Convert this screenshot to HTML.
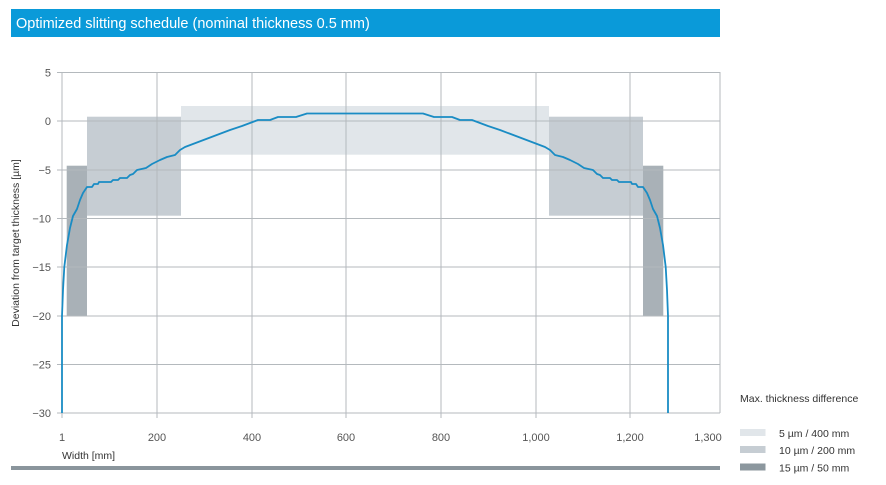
<!DOCTYPE html>
<html><head><meta charset="utf-8"><style>
html,body{margin:0;padding:0;background:#fff;}
svg{display:block;font-family:"Liberation Sans",sans-serif;}
</style></head><body>
<svg width="886" height="485" viewBox="0 0 886 485" xmlns="http://www.w3.org/2000/svg">
<rect x="11" y="9" width="709" height="28" fill="#0a9ad9"/>
<text x="16" y="28" font-size="14.5" fill="#fff">Optimized slitting schedule (nominal thickness 0.5 mm)</text>
<!-- boxes -->
<rect x="181" y="106" width="368" height="48.7" fill="#e1e6ea"/>
<rect x="87" y="116.7" width="94" height="99" fill="#c6cdd3"/>
<rect x="549" y="116.7" width="94" height="99" fill="#c6cdd3"/>
<rect x="66.7" y="165.7" width="20.3" height="150.3" fill="#a9b1b7"/>
<rect x="643" y="165.7" width="20.3" height="150.3" fill="#a9b1b7"/>
<!-- grid -->
<g stroke="#b4b9bd" stroke-width="1">
<line x1="62" y1="72.5" x2="720" y2="72.5"/>
<line x1="62" y1="121" x2="720" y2="121"/>
<line x1="62" y1="170" x2="720" y2="170"/>
<line x1="62" y1="218.5" x2="720" y2="218.5"/>
<line x1="62" y1="267" x2="720" y2="267"/>
<line x1="62" y1="316" x2="720" y2="316"/>
<line x1="62" y1="364.5" x2="720" y2="364.5"/>
<line x1="62" y1="413" x2="720" y2="413"/>
<line x1="62" y1="72" x2="62" y2="418"/>
<line x1="157" y1="72" x2="157" y2="418"/>
<line x1="252" y1="72" x2="252" y2="418"/>
<line x1="346" y1="72" x2="346" y2="418"/>
<line x1="441" y1="72" x2="441" y2="418"/>
<line x1="536" y1="72" x2="536" y2="418"/>
<line x1="630" y1="72" x2="630" y2="418"/>
<line x1="720" y1="72" x2="720" y2="413"/>
<line x1="57" y1="72.5" x2="62" y2="72.5"/><line x1="57" y1="121" x2="62" y2="121"/><line x1="57" y1="170" x2="62" y2="170"/><line x1="57" y1="218.5" x2="62" y2="218.5"/><line x1="57" y1="267" x2="62" y2="267"/><line x1="57" y1="316" x2="62" y2="316"/><line x1="57" y1="364.5" x2="62" y2="364.5"/><line x1="57" y1="413" x2="62" y2="413"/>
</g>
<!-- curve -->
<polyline fill="none" stroke="#1a8cc4" stroke-width="1.8" stroke-linejoin="round" points="62,413 62,316 63,290 64.3,267 67,245 70,228 73,216 77,209 80,200 83,193 87,187 92,187 94,184 98,184 99,182 111,182 113,180 118,180 120,178 127,178 130,175 133,174 137,170 146,168 152,164 160,160 167,157 175,155 180,150 185,147 230,130 242,126 258,120 270,120 278,117 296,117 307,113.5 365,113.5 423,113.5 434,117 452,117 460,120 472,120 488,126 500,130 545,147 550,150 555,155 563,157 570,160 578,164 584,168 593,170 597,174 600,175 603,178 610,178 612,180 617,180 619,182 631,182 632,184 636,184 638,187 643,187 647,193 650,200 653,209 657,216 660,228 663,245 665.7,267 667,290 668,316 668,413"/>
<!-- y labels -->
<g font-size="11" fill="#555" text-anchor="end">
<text x="51" y="76.5">5</text><text x="51" y="125">0</text><text x="51" y="174">−5</text><text x="51" y="222.5">−10</text><text x="51" y="271">−15</text><text x="51" y="320">−20</text><text x="51" y="368.5">−25</text><text x="51" y="417">−30</text>
</g>
<g font-size="11" fill="#555" text-anchor="middle">
<text x="62" y="441">1</text><text x="157" y="441">200</text><text x="252" y="441">400</text><text x="346" y="441">600</text><text x="441" y="441">800</text><text x="536" y="441">1,000</text><text x="630" y="441">1,200</text><text x="708" y="441">1,300</text>
</g>
<text x="62" y="459" font-size="10.5" fill="#333">Width [mm]</text>
<text transform="translate(19,243) rotate(-90)" font-size="10.5" fill="#333" text-anchor="middle">Deviation from target thickness [µm]</text>
<rect x="11" y="466" width="709" height="4" fill="#8a959c"/>
<!-- legend -->
<text x="740" y="402" font-size="10.5" fill="#333">Max. thickness difference</text>
<rect x="740" y="429" width="25.5" height="7" fill="#e1e6ea"/>
<rect x="740" y="446" width="25.5" height="7" fill="#c6cdd3"/>
<rect x="740" y="463.5" width="25.5" height="7" fill="#8c979e"/>
<g font-size="10.5" fill="#333">
<text x="779" y="437">5 µm / 400 mm</text>
<text x="779" y="454">10 µm / 200 mm</text>
<text x="779" y="471.5">15 µm / 50 mm</text>
</g>
</svg>
</body></html>
